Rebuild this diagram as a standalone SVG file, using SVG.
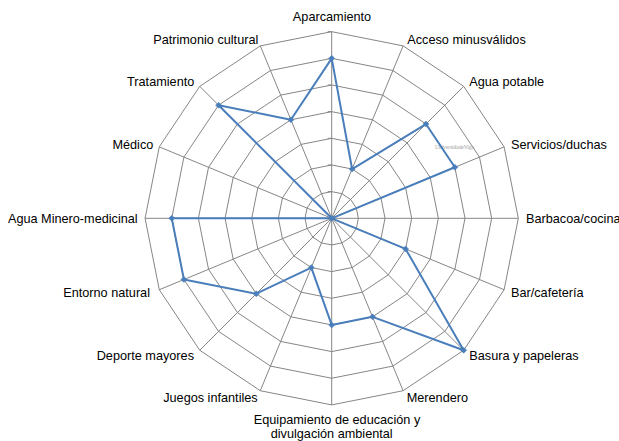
<svg xmlns="http://www.w3.org/2000/svg" width="619" height="441" viewBox="0 0 619 441">
<style>
.bg{fill:#ffffff}
.ring{fill:none;stroke:#868686;stroke-width:1}
.spoke{stroke:#868686;stroke-width:1}
.tick{stroke:#868686;stroke-width:1}
.data{fill:none;stroke:#4A7EBB;stroke-width:2;stroke-linejoin:round}
.mk{fill:#4A7EBB;stroke:#4A7EBB;stroke-width:0.5}
.lbl{font-family:"Liberation Sans",Arial,sans-serif;font-size:12.7px;fill:#000}
.s{text-anchor:start}.e{text-anchor:end}.m{text-anchor:middle}
.wm{font-family:"Liberation Serif",serif;font-size:5.4px;fill:#9a9a9a}
</style>
<defs>
<path id="dm" d="M0,-3 L3,0 L0,3 L-3,0 Z"/>
</defs>
<rect class="bg" x="0" y="0" width="619" height="441"/>
<g id="grid" transform="translate(331.7,218.3)">
<polygon class="ring" points="0,-26.66 10.20,-24.63 18.85,-18.85 24.63,-10.20 26.66,0 24.63,10.20 18.85,18.85 10.20,24.63 0,26.66 -10.20,24.63 -18.85,18.85 -24.63,10.20 -26.66,0 -24.63,-10.20 -18.85,-18.85 -10.20,-24.63"/>
<polygon class="ring" points="0,-53.32 20.40,-49.26 37.70,-37.70 49.26,-20.40 53.32,0 49.26,20.40 37.70,37.70 20.40,49.26 0,53.32 -20.40,49.26 -37.70,37.70 -49.26,20.40 -53.32,0 -49.26,-20.40 -37.70,-37.70 -20.40,-49.26"/>
<polygon class="ring" points="0,-79.98 30.61,-73.89 56.55,-56.55 73.89,-30.61 79.98,0 73.89,30.61 56.55,56.55 30.61,73.89 0,79.98 -30.61,73.89 -56.55,56.55 -73.89,30.61 -79.98,0 -73.89,-30.61 -56.55,-56.55 -30.61,-73.89"/>
<polygon class="ring" points="0,-106.64 40.81,-98.52 75.41,-75.41 98.52,-40.81 106.64,0 98.52,40.81 75.41,75.41 40.81,98.52 0,106.64 -40.81,98.52 -75.41,75.41 -98.52,40.81 -106.64,0 -98.52,-40.81 -75.41,-75.41 -40.81,-98.52"/>
<polygon class="ring" points="0,-133.30 51.01,-123.15 94.26,-94.26 123.15,-51.01 133.30,0 123.15,51.01 94.26,94.26 51.01,123.15 0,133.30 -51.01,123.15 -94.26,94.26 -123.15,51.01 -133.30,0 -123.15,-51.01 -94.26,-94.26 -51.01,-123.15"/>
<polygon class="ring" points="0,-159.96 61.21,-147.78 113.11,-113.11 147.78,-61.21 159.96,0 147.78,61.21 113.11,113.11 61.21,147.78 0,159.96 -61.21,147.78 -113.11,113.11 -147.78,61.21 -159.96,0 -147.78,-61.21 -113.11,-113.11 -61.21,-147.78"/>
<polygon class="ring" points="0,-186.62 71.42,-172.41 131.96,-131.96 172.41,-71.42 186.62,0 172.41,71.42 131.96,131.96 71.42,172.41 0,186.62 -71.42,172.41 -131.96,131.96 -172.41,71.42 -186.62,0 -172.41,-71.42 -131.96,-131.96 -71.42,-172.41"/>
<g id="spokes">
<line class="spoke" x1="0" y1="0" x2="0" y2="-186.62"/>
<line class="spoke" x1="0" y1="0" x2="71.42" y2="-172.41"/>
<line class="spoke" x1="0" y1="0" x2="131.96" y2="-131.96"/>
<line class="spoke" x1="0" y1="0" x2="172.41" y2="-71.42"/>
<line class="spoke" x1="0" y1="0" x2="186.62" y2="0"/>
<line class="spoke" x1="0" y1="0" x2="172.41" y2="71.42"/>
<line class="spoke" x1="0" y1="0" x2="131.96" y2="131.96"/>
<line class="spoke" x1="0" y1="0" x2="71.42" y2="172.41"/>
<line class="spoke" x1="0" y1="0" x2="0" y2="186.62"/>
<line class="spoke" x1="0" y1="0" x2="-71.42" y2="172.41"/>
<line class="spoke" x1="0" y1="0" x2="-131.96" y2="131.96"/>
<line class="spoke" x1="0" y1="0" x2="-172.41" y2="71.42"/>
<line class="spoke" x1="0" y1="0" x2="-186.62" y2="0"/>
<line class="spoke" x1="0" y1="0" x2="-172.41" y2="-71.42"/>
<line class="spoke" x1="0" y1="0" x2="-131.96" y2="-131.96"/>
<line class="spoke" x1="0" y1="0" x2="-71.42" y2="-172.41"/>
</g>
<g id="ticks">
<line class="tick" x1="-4" y1="-26.66" x2="0" y2="-26.66"/>
<line class="tick" x1="-4" y1="-53.32" x2="0" y2="-53.32"/>
<line class="tick" x1="-4" y1="-79.98" x2="0" y2="-79.98"/>
<line class="tick" x1="-4" y1="-106.64" x2="0" y2="-106.64"/>
<line class="tick" x1="-4" y1="-133.30" x2="0" y2="-133.30"/>
<line class="tick" x1="-4" y1="-159.96" x2="0" y2="-159.96"/>
<line class="tick" x1="-4" y1="-186.62" x2="0" y2="-186.62"/>
</g>
</g>
<text class="wm" x="435" y="148.5">UniversidadeVigo</text>
<g id="connectors" transform="translate(331.7,218.3)">
<polygon class="data" points="0,-159.96 20.40,-49.26 94.26,-94.26 123.15,-51.01 0,0 73.89,30.61 131.96,131.96 40.81,98.52 0,106.64 -20.40,49.26 -75.41,75.41 -147.78,61.21 -159.96,0 0,0 -113.11,-113.11 -40.81,-98.52"/>
<g id="markers">
<use href="#dm" class="mk" x="0" y="-159.96"/>
<use href="#dm" class="mk" x="20.40" y="-49.26"/>
<use href="#dm" class="mk" x="94.26" y="-94.26"/>
<use href="#dm" class="mk" x="123.15" y="-51.01"/>
<use href="#dm" class="mk" x="0" y="0"/>
<use href="#dm" class="mk" x="73.89" y="30.61"/>
<use href="#dm" class="mk" x="131.96" y="131.96"/>
<use href="#dm" class="mk" x="40.81" y="98.52"/>
<use href="#dm" class="mk" x="0" y="106.64"/>
<use href="#dm" class="mk" x="-20.40" y="49.26"/>
<use href="#dm" class="mk" x="-75.41" y="75.41"/>
<use href="#dm" class="mk" x="-147.78" y="61.21"/>
<use href="#dm" class="mk" x="-159.96" y="0"/>
<use href="#dm" class="mk" x="-113.11" y="-113.11"/>
<use href="#dm" class="mk" x="-40.81" y="-98.52"/>
</g>
</g>
<g id="labels">
<g id="n-aparcamiento"><text class="lbl m" x="332" y="21">Aparcamiento</text></g>
<g id="n-acceso"><text class="lbl s" x="407.3" y="44">Acceso minusválidos</text></g>
<g id="n-agua-potable"><text class="lbl s" x="469.3" y="86">Agua potable</text></g>
<g id="n-servicios"><text class="lbl s" x="511" y="149.3">Servicios/duchas</text></g>
<g id="n-barbacoa"><text class="lbl s" x="526" y="223.3">Barbacoa/cocina</text></g>
<g id="n-bar"><text class="lbl s" x="511" y="296.7">Bar/cafetería</text></g>
<g id="n-basura"><text class="lbl s" x="469.3" y="360">Basura y papeleras</text></g>
<g id="n-merendero"><text class="lbl s" x="406.7" y="402.3">Merendero</text></g>
<g id="n-equipamiento"><text class="lbl m" x="337" y="423.5">Equipamiento de educación y</text><text class="lbl m" x="331.7" y="437.5">divulgación ambiental</text></g>
<g id="n-juegos"><text class="lbl e" x="257.7" y="402">Juegos infantiles</text></g>
<g id="n-deporte"><text class="lbl e" x="194" y="360">Deporte mayores</text></g>
<g id="n-entorno"><text class="lbl e" x="150" y="296.7">Entorno natural</text></g>
<g id="n-agua-minero"><text class="lbl e" x="137.7" y="223.3">Agua Minero-medicinal</text></g>
<g id="n-medico"><text class="lbl e" x="153.3" y="149">Médico</text></g>
<g id="n-tratamiento"><text class="lbl e" x="194.3" y="85.7">Tratamiento</text></g>
<g id="n-patrimonio"><text class="lbl e" x="258.3" y="44">Patrimonio cultural</text></g>
</g>
</svg>
